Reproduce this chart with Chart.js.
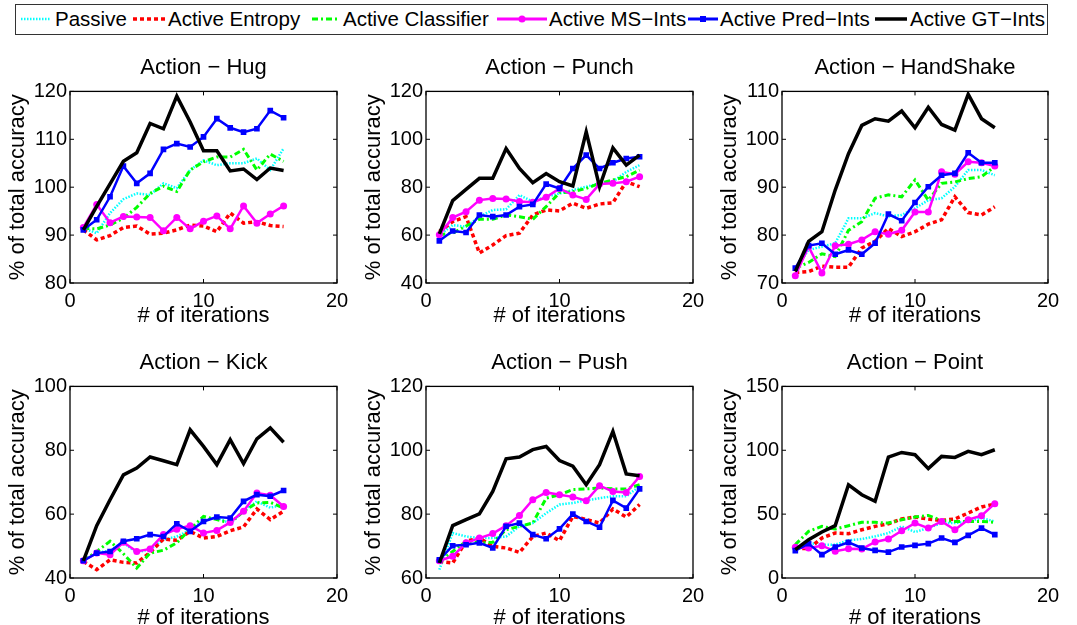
<!DOCTYPE html>
<html>
<head>
<meta charset="utf-8">
<script src="https://cdn.jsdelivr.net/npm/chart.js@4.4.0/dist/chart.umd.min.js"></script>
<style>
  body { margin: 0; width: 1077px; height: 625px; overflow: hidden; background: #fff; font-family: "Liberation Sans", Arial, sans-serif; }
  .plot { position: absolute; }
  #legendBox { position: absolute; left: 15px; top: 4px; width: 1031px; height: 29px; border: 1px solid #333; }
  .lg { position: absolute; top: 7px; font-size: 20.5px; line-height: 24px; color: #000; white-space: nowrap; }
  #legendLines { position: absolute; left: 0; top: 0; }
</style>
</head>
<body>
<div id="legendBox"></div>
<svg id="legendLines" width="1077" height="40">
  <line x1="21" y1="19" x2="50" y2="19" stroke="rgb(0,255,255)" stroke-width="2.5" stroke-dasharray="1.5,1.5"/>
  <line x1="133" y1="19" x2="165" y2="19" stroke="rgb(255,0,0)" stroke-width="3.5" stroke-dasharray="4,3"/>
  <line x1="312" y1="19" x2="340" y2="19" stroke="rgb(0,255,0)" stroke-width="3" stroke-dasharray="6,3,2,3"/>
  <line x1="497" y1="19" x2="547" y2="19" stroke="rgb(255,0,255)" stroke-width="3"/>
  <circle cx="522" cy="19" r="3.5" fill="rgb(255,0,255)"/>
  <line x1="688" y1="19" x2="718" y2="19" stroke="rgb(0,0,255)" stroke-width="3"/>
  <rect x="700" y="16" width="6" height="6" fill="rgb(0,0,255)"/>
  <line x1="875" y1="19" x2="907" y2="19" stroke="#000" stroke-width="3.5"/>
</svg>
<span class="lg" style="left:55px">Passive</span>
<span class="lg" style="left:168px">Active Entropy</span>
<span class="lg" style="left:343px">Active Classifier</span>
<span class="lg" style="left:549px">Active MS−Ints</span>
<span class="lg" style="left:720px">Active Pred−Ints</span>
<span class="lg" style="left:910px">Active GT−Ints</span>

<div class="plot" style="left:0px;top:45px"><canvas id="hug" width="357" height="288"></canvas></div>
<div class="plot" style="left:356px;top:45px"><canvas id="punch" width="357" height="288"></canvas></div>
<div class="plot" style="left:712px;top:45px"><canvas id="handshake" width="356" height="288"></canvas></div>
<div class="plot" style="left:0px;top:340px"><canvas id="kick" width="357" height="295"></canvas></div>
<div class="plot" style="left:356px;top:340px"><canvas id="push" width="357" height="295"></canvas></div>
<div class="plot" style="left:712px;top:340px"><canvas id="point" width="356" height="295"></canvas></div>

<script>
// x values (iterations)
const iterations = [1, 2, 3, 4, 5, 6, 7, 8, 9, 10, 11, 12, 13, 14, 15, 16];

const seriesNames = ['Passive', 'Active Entropy', 'Active Classifier', 'Active MS−Ints', 'Active Pred−Ints', 'Active GT−Ints'];

// Action - Hug
const hugPassive    = [91.4, 90.4, 94.6, 97.5, 98.7, 98.4, 100.8, 99.8, 103.6, 105.6, 104.6, 105.0, 105.0, 106.0, 103.6, 108.1];
const hugEntropy    = [91.1, 89.0, 89.9, 91.6, 91.9, 90.2, 90.4, 91.1, 92.1, 91.9, 90.7, 94.6, 92.5, 92.8, 92.0, 91.8];
const hugClassifier = [91.4, 91.3, 92.1, 93.5, 95.8, 98.7, 100.2, 99.1, 103.6, 105.3, 106.3, 106.3, 107.9, 103.6, 106.9, 105.4];
const hugMS         = [91.6, 96.4, 92.6, 93.9, 93.8, 93.7, 90.9, 93.7, 91.3, 92.9, 94.0, 91.3, 96.1, 92.5, 94.4, 96.1];
const hugPred       = [91.1, 93.2, 98.0, 104.4, 100.8, 102.9, 107.9, 109.1, 108.4, 110.5, 114.3, 112.4, 111.5, 112.2, 116.0, 114.5];
const hugGT         = [91.1, 96.0, 100.7, 105.4, 107.2, 113.3, 112.2, 119.0, 113.6, 107.6, 107.6, 103.4, 103.8, 101.6, 104.0, 103.5];

// Action - Punch
const punchPassive    = [60.0, 64.2, 63.5, 67.7, 70.5, 70.8, 76.7, 74.0, 76.0, 77.4, 78.8, 80.2, 81.6, 82.3, 86.4, 89.2];
const punchEntropy    = [61.5, 65.6, 67.7, 52.5, 55.9, 59.8, 60.8, 68.4, 70.5, 70.1, 73.3, 71.2, 73.0, 73.5, 82.3, 80.2];
const punchClassifier = [60.1, 60.8, 63.8, 66.6, 66.6, 68.4, 67.7, 66.6, 71.9, 77.7, 78.1, 79.5, 81.6, 83.0, 84.4, 87.1];
const punchMS         = [60.1, 67.3, 69.8, 74.6, 75.3, 75.1, 74.0, 73.7, 75.8, 79.5, 76.7, 74.9, 81.3, 81.6, 82.3, 84.4];
const punchPred       = [57.6, 61.7, 61.1, 68.4, 67.7, 68.4, 71.9, 72.8, 81.3, 79.5, 87.8, 93.4, 87.8, 90.2, 92.0, 92.7];
const punchGT         = [60.5, 74.4, 79.1, 83.7, 83.7, 96.1, 87.8, 81.9, 85.7, 82.3, 80.5, 103.1, 80.2, 96.4, 89.2, 93.4];

// Action - HandShake
const shakePassive    = [73.0, 76.9, 77.6, 78.3, 83.5, 83.5, 84.6, 83.9, 84.2, 85.6, 87.3, 87.7, 90.1, 93.6, 93.6, 92.5];
const shakeEntropy    = [72.2, 72.4, 73.5, 73.3, 73.3, 77.3, 78.7, 81.4, 79.7, 80.7, 82.3, 83.2, 88.0, 84.7, 84.2, 85.9];
const shakeClassifier = [73.1, 74.3, 76.1, 75.5, 81.0, 82.8, 87.7, 88.4, 88.0, 91.5, 87.3, 90.8, 91.1, 91.8, 92.2, 94.3];
const shakeMS         = [71.5, 77.6, 72.1, 77.8, 78.1, 79.0, 80.7, 80.2, 81.0, 84.8, 84.8, 93.2, 92.7, 95.3, 95.1, 94.4];
const shakePred       = [73.1, 77.8, 78.3, 76.0, 76.9, 76.0, 78.3, 84.4, 83.0, 86.8, 90.1, 92.5, 92.9, 97.2, 95.1, 95.1];
const shakeGT         = [72.4, 78.7, 80.7, 89.4, 97.0, 102.9, 104.3, 103.8, 105.9, 102.4, 106.7, 103.1, 101.9, 109.4, 104.3, 102.4];

// Action - Kick
const kickPassive    = [45.4, 48.0, 48.5, 51.0, 48.0, 49.0, 52.0, 53.0, 55.0, 58.0, 59.0, 57.0, 61.0, 64.0, 62.0, 63.0];
const kickEntropy    = [45.2, 42.6, 45.7, 44.9, 44.7, 48.0, 52.2, 51.8, 54.6, 52.5, 53.0, 54.8, 56.0, 61.6, 58.3, 60.9];
const kickClassifier = [45.4, 48.3, 51.5, 47.6, 43.1, 47.8, 48.7, 51.0, 55.3, 59.3, 58.3, 57.2, 60.9, 63.5, 63.7, 61.9];
const kickMS         = [45.4, 47.8, 47.3, 51.2, 48.3, 49.1, 53.6, 55.3, 56.4, 54.1, 54.9, 57.4, 60.9, 66.6, 65.9, 62.4];
const kickPred       = [45.4, 47.8, 48.3, 51.5, 52.3, 53.6, 53.0, 57.0, 54.6, 57.7, 59.1, 58.8, 64.0, 66.1, 65.6, 67.4];
const kickGT         = [45.4, 56.4, 64.5, 72.3, 74.4, 77.9, 76.7, 75.5, 86.4, 81.2, 75.5, 83.3, 75.8, 83.6, 87.0, 82.5];

// Action - Push
const pushPassive    = [62.6, 74.1, 73.0, 72.5, 72.5, 73.0, 76.2, 77.2, 80.3, 83.0, 83.5, 84.3, 85.0, 85.6, 85.6, 88.7];
const pushEntropy    = [65.2, 64.7, 71.5, 72.5, 69.9, 69.4, 68.0, 73.0, 74.1, 71.7, 79.3, 78.3, 77.2, 81.6, 79.1, 83.0];
const pushClassifier = [65.2, 68.3, 71.5, 71.0, 71.2, 75.1, 76.2, 77.2, 85.0, 86.1, 87.7, 87.9, 88.2, 87.9, 87.9, 89.2];
const pushMS         = [65.4, 66.8, 71.0, 72.5, 73.9, 76.4, 79.6, 84.5, 86.8, 86.1, 85.4, 84.2, 88.9, 87.1, 86.8, 91.8];
const pushPred       = [65.7, 70.1, 70.4, 71.0, 69.4, 76.2, 77.2, 73.6, 72.3, 75.4, 80.0, 77.7, 75.9, 84.3, 81.9, 87.9];
const pushGT         = [64.7, 76.4, 78.3, 80.1, 87.1, 97.3, 97.9, 100.2, 101.2, 96.8, 95.0, 89.2, 95.5, 105.9, 92.6, 92.0];

// Action - Point
const pointPassive    = [24.0, 27.4, 26.1, 26.1, 29.5, 30.5, 32.6, 35.2, 40.4, 36.0, 39.1, 43.0, 43.0, 44.3, 46.9, 44.3];
const pointEntropy    = [23.5, 22.9, 31.3, 35.2, 34.7, 37.8, 40.4, 42.5, 46.2, 47.7, 46.2, 45.1, 46.2, 50.9, 55.6, 57.9];
const pointClassifier = [26.1, 36.5, 40.4, 38.3, 40.9, 43.6, 43.6, 43.0, 45.6, 47.7, 49.0, 45.1, 44.3, 44.3, 44.3, 43.6];
const pointMS         = [24.0, 23.5, 25.3, 20.9, 22.9, 22.7, 28.2, 30.5, 37.0, 43.0, 39.1, 44.3, 37.8, 45.6, 48.8, 58.2];
const pointPred       = [21.4, 26.9, 18.3, 24.3, 27.9, 23.5, 21.6, 20.3, 24.3, 25.6, 26.9, 31.3, 27.9, 33.4, 39.1, 33.9];
const pointGT         = [22.2, 30.0, 36.0, 41.0, 73.0, 65.2, 60.0, 94.7, 98.3, 96.5, 85.6, 95.2, 94.4, 99.1, 96.5, 100.4];

const FONT = '"Liberation Sans", Arial, sans-serif';

// one style per series, same order as seriesNames
const styles = [
  { borderColor: 'rgb(0,255,255)', borderWidth: 2.5, borderDash: [1.5, 1.5],   pointRadius: 0, order: 5 },
  { borderColor: 'rgb(255,0,0)',   borderWidth: 3.5, borderDash: [4, 3],       pointRadius: 0, order: 4 },
  { borderColor: 'rgb(0,255,0)',   borderWidth: 3,   borderDash: [6, 3, 2, 3], pointRadius: 0, order: 3 },
  { borderColor: 'rgb(255,0,255)', borderWidth: 2.5, pointRadius: 3.5, pointStyle: 'circle', pointBackgroundColor: 'rgb(255,0,255)', order: 2 },
  { borderColor: 'rgb(0,0,255)',   borderWidth: 2.5, pointRadius: 4,   pointStyle: 'rect',   pointBackgroundColor: 'rgb(0,0,255)', order: 1 },
  { borderColor: '#000',           borderWidth: 3.5, pointRadius: 0, order: 0 }
];

// matlab style box with inward ticks on all four sides
const boxPlugin = {
  id: 'matlabBox',
  afterDatasetsDraw(chart) {
    const { ctx, chartArea: a, scales: { x, y } } = chart;
    ctx.save();
    ctx.strokeStyle = '#000';
    ctx.lineWidth = 1.3;
    ctx.strokeRect(a.left, a.top, a.right - a.left, a.bottom - a.top);
    ctx.lineWidth = 1;
    ctx.beginPath();
    x.ticks.forEach(t => {
      const px = x.getPixelForValue(t.value);
      ctx.moveTo(px, a.bottom); ctx.lineTo(px, a.bottom - 4);
      ctx.moveTo(px, a.top); ctx.lineTo(px, a.top + 4);
    });
    y.ticks.forEach(t => {
      const py = y.getPixelForValue(t.value);
      ctx.moveTo(a.left, py); ctx.lineTo(a.left + 4, py);
      ctx.moveTo(a.right, py); ctx.lineTo(a.right - 4, py);
    });
    ctx.stroke();
    ctx.restore();
  }
};

function makePlot(id, title, yMin, yMax, yStep, xHeight, values) {
  const datasets = values.map((vals, k) => Object.assign({
    label: seriesNames[k],
    data: iterations.map((it, i) => ({ x: it, y: vals[i] })),
    fill: false,
    tension: 0,
    pointBorderWidth: 0
  }, styles[k]));

  new Chart(document.getElementById(id), {
    type: 'line',
    data: { datasets: datasets },
    plugins: [boxPlugin],
    options: {
      responsive: false,
      animation: false,
      events: [],
      layout: { padding: { left: 0, right: 20, top: 0, bottom: 0 } },
      plugins: {
        legend: { display: false },
        tooltip: { enabled: false },
        title: {
          display: true,
          fullSize: false,
          text: title,
          color: '#000',
          font: { family: FONT, size: 22, weight: 'normal' },
          padding: { top: 10, bottom: 10 }
        }
      },
      scales: {
        x: {
          type: 'linear',
          min: 0,
          max: 20,
          grid: { display: false, drawTicks: false },
          border: { display: false },
          ticks: { stepSize: 10, color: '#000', font: { family: FONT, size: 20 }, padding: 6, maxRotation: 0 },
          title: { display: true, text: '# of iterations', color: '#000', font: { family: FONT, size: 22 }, padding: { top: 0, bottom: 4 } },
          afterFit: s => { s.height = xHeight; }
        },
        y: {
          min: yMin,
          max: yMax,
          grid: { display: false, drawTicks: false },
          border: { display: false },
          ticks: { stepSize: yStep, color: '#000', font: { family: FONT, size: 20 }, padding: 3 },
          title: { display: true, text: '% of total accuracy', color: '#000', font: { family: FONT, size: 22 }, padding: { top: 5, bottom: 0 } },
          afterFit: s => { s.width = 70; }
        }
      }
    }
  });
}

makePlot('hug', 'Action − Hug', 80, 120, 10, 50,
  [hugPassive, hugEntropy, hugClassifier, hugMS, hugPred, hugGT]);
makePlot('punch', 'Action − Punch', 40, 120, 20, 50,
  [punchPassive, punchEntropy, punchClassifier, punchMS, punchPred, punchGT]);
makePlot('handshake', 'Action − HandShake', 70, 110, 10, 50,
  [shakePassive, shakeEntropy, shakeClassifier, shakeMS, shakePred, shakeGT]);
makePlot('kick', 'Action − Kick', 40, 100, 20, 57,
  [kickPassive, kickEntropy, kickClassifier, kickMS, kickPred, kickGT]);
makePlot('push', 'Action − Push', 60, 120, 20, 57,
  [pushPassive, pushEntropy, pushClassifier, pushMS, pushPred, pushGT]);
makePlot('point', 'Action − Point', 0, 150, 50, 57,
  [pointPassive, pointEntropy, pointClassifier, pointMS, pointPred, pointGT]);
</script>
</body>
</html>
